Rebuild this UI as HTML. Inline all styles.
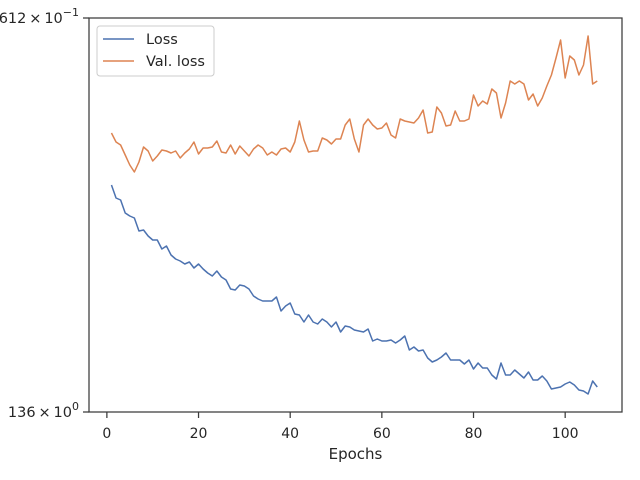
<!DOCTYPE html>
<html><head><meta charset="utf-8"><style>
html,body{margin:0;padding:0;background:#fff;width:640px;height:480px;overflow:hidden}
svg text{font-family:"DejaVu Sans","Liberation Sans",sans-serif;fill:#262626}
</style></head><body>
<svg id="chart" width="640" height="480" xmlns="http://www.w3.org/2000/svg"></svg>
<script>
const epochs = Array.from({length:107},(_, i)=>i+1);
const lossValues = [1.227,1.214,1.212,1.199,1.196,1.194,1.181,1.182,1.176,1.172,1.172,1.163,1.166,1.157,1.153,1.151,1.148,1.150,1.144,1.148,1.143,1.139,1.136,1.141,1.135,1.132,1.123,1.122,1.127,1.126,1.123,1.116,1.113,1.111,1.111,1.111,1.115,1.101,1.106,1.109,1.098,1.097,1.090,1.097,1.090,1.088,1.093,1.090,1.085,1.090,1.080,1.086,1.085,1.082,1.081,1.080,1.083,1.071,1.073,1.071,1.071,1.072,1.069,1.072,1.076,1.062,1.065,1.061,1.062,1.054,1.050,1.052,1.055,1.059,1.052,1.052,1.052,1.048,1.052,1.043,1.049,1.044,1.044,1.037,1.033,1.049,1.037,1.037,1.042,1.038,1.034,1.040,1.032,1.032,1.036,1.031,1.023,1.024,1.025,1.028,1.030,1.027,1.022,1.021,1.018,1.031,1.025];
const valLossValues = [1.279,1.270,1.267,1.257,1.247,1.240,1.250,1.265,1.261,1.251,1.256,1.262,1.261,1.259,1.261,1.254,1.259,1.263,1.270,1.258,1.264,1.264,1.265,1.271,1.260,1.259,1.267,1.258,1.266,1.261,1.256,1.263,1.267,1.264,1.257,1.260,1.257,1.263,1.264,1.260,1.270,1.291,1.272,1.260,1.261,1.261,1.274,1.272,1.268,1.273,1.273,1.287,1.293,1.273,1.260,1.287,1.293,1.287,1.283,1.284,1.289,1.277,1.274,1.293,1.291,1.290,1.289,1.294,1.302,1.279,1.280,1.305,1.299,1.286,1.287,1.301,1.291,1.291,1.293,1.317,1.306,1.311,1.308,1.323,1.319,1.294,1.309,1.331,1.328,1.331,1.328,1.312,1.318,1.306,1.314,1.326,1.337,1.354,1.372,1.334,1.356,1.352,1.337,1.347,1.376,1.328,1.331];
const xTicks = [0,20,40,60,80,100];
const yTickValues = [1.000,1.394];
const yTickLabels = ["136","612"];
const yTickExps = ["0","\u22121"];

const NS="http://www.w3.org/2000/svg";
const svg=document.getElementById('chart');
const L=89,R=622,T=18,B=412;
const xMin=-3.9,xMax=112.4,yMin=1.0,yMax=1.394;
const xs=v=>L+(v-xMin)/(xMax-xMin)*(R-L);
const ys=v=>B-(v-yMin)/(yMax-yMin)*(B-T);
function mk(tag,attrs,parent){const e=document.createElementNS(NS,tag);for(const k in attrs)e.setAttribute(k,attrs[k]);(parent||svg).appendChild(e);return e;}

const frame=mk('rect',{x:L,y:T,width:R-L,height:B-T,fill:'none',stroke:'#3a3a3a','stroke-width':1.25});



xTicks.forEach(t=>{
  const x=xs(t);
  const tk=mk('line',{x1:x,x2:x,y1:B,y2:B+6,stroke:'#3a3a3a','stroke-width':1.25});
  
  
  const lb=mk('text',{x:x,y:B+26,'text-anchor':'middle','font-size':14});
  lb.textContent=t;
  
  
});
yTickValues.forEach((v,i)=>{
  const y=ys(v);
  const tk=mk('line',{x1:L-6,x2:L,y1:y,y2:y,stroke:'#3a3a3a','stroke-width':1.25});
  
  
  const lb=mk('text',{x:L-10,y:y+5,'text-anchor':'end','font-size':14.5});
  
  
  const a=document.createElementNS(NS,'tspan');a.textContent=yTickLabels[i]+"\u2009\u00d7\u200910";lb.appendChild(a);
  const b=document.createElementNS(NS,'tspan');b.setAttribute('dy','-7');b.setAttribute('font-size','11');b.textContent=yTickExps[i];lb.appendChild(b);
});
const xl=mk('text',{x:(L+R)/2,y:459,'text-anchor':'middle','font-size':15});
xl.textContent='Epochs';



function series(vals,color,name){
  const d=vals.map((v,i)=>(i?'L':'M')+xs(epochs[i]).toFixed(2)+','+ys(v).toFixed(2)).join(' ');
  const p=mk('path',{d:d,fill:'none',stroke:color,'stroke-width':1.5,'stroke-linejoin':'round'});
  
  
}
series(lossValues,'#4c72b0','loss-line');
series(valLossValues,'#dd8452','val-loss-line');

const lg=mk('g',{});


mk('rect',{x:97,y:26,width:117,height:50,rx:3,fill:'#fff','fill-opacity':0.8,stroke:'#ccc','stroke-width':1},lg);
[['Loss','#4c72b0',39],['Val. loss','#dd8452',61]].forEach(([t,c,y])=>{
  const e=mk('g',{},lg);
  
  
  mk('line',{x1:103,x2:134,y1:y,y2:y,stroke:c,'stroke-width':1.5},e);
  const tx=mk('text',{x:146,y:y+5,'font-size':14.5},e);tx.textContent=t;
});
</script>
</body></html>
